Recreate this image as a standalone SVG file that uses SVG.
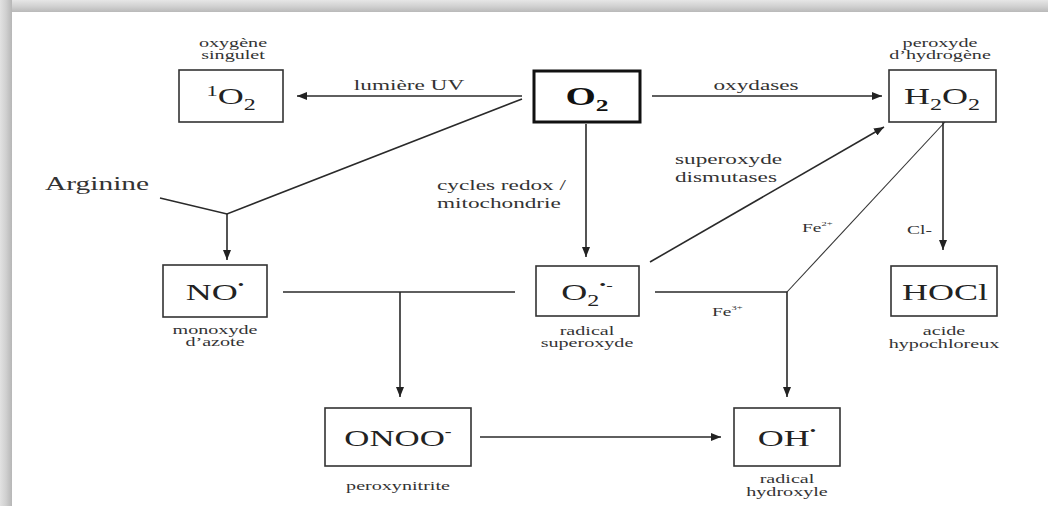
<svg xmlns="http://www.w3.org/2000/svg" width="1054" height="506" viewBox="0 0 1054 506">
<defs>
<linearGradient id="gTop" x1="0" y1="0" x2="0" y2="1"><stop offset="0" stop-color="#e6e6e6"/><stop offset="0.5" stop-color="#d2d2d2"/><stop offset="1" stop-color="#b9b9b9"/></linearGradient>
<linearGradient id="gLeft" x1="0" y1="0" x2="1" y2="0"><stop offset="0" stop-color="#e2e2e2"/><stop offset="0.5" stop-color="#d0d0d0"/><stop offset="1" stop-color="#b6b6b6"/></linearGradient>
<marker id="ah" viewBox="0 0 10 8" refX="10" refY="4" markerWidth="10" markerHeight="8" markerUnits="userSpaceOnUse" orient="auto"><path d="M0,0 L10,4 L0,8 Z" fill="#222"/></marker>
<style>
.box{fill:#fff;stroke:#333;stroke-width:1.6}
.boxb{fill:#fff;stroke:#111;stroke-width:3}
.ln{fill:none;stroke:#2a2a2a;stroke-width:1.6}
.thin{fill:none;stroke:#333;stroke-width:1.1}
.node{font-family:"Liberation Serif","Times New Roman",serif;font-size:24px;fill:#222;text-anchor:middle}
.big{font-size:26px;font-weight:bold;fill:#111}
.lab{font-family:"Liberation Serif","Times New Roman",serif;font-size:15px;fill:#333}
.arg{font-size:19px}
.cap{font-family:"Liberation Serif","Times New Roman",serif;font-size:11.5px;fill:#333;text-anchor:middle}
.sm{font-family:"Liberation Serif","Times New Roman",serif;font-size:13px;fill:#333}
</style>
</defs>
<rect x="0" y="0" width="1054" height="506" fill="#fff"/>
<rect x="0" y="0" width="1048" height="12" fill="url(#gTop)"/>
<rect x="0" y="0" width="12" height="506" fill="url(#gLeft)"/>

<g id="connectors">
<line class="ln" x1="522" y1="96" x2="297" y2="96" marker-end="url(#ah)"/>
<line class="ln" x1="652" y1="96" x2="882" y2="96" marker-end="url(#ah)"/>
<line class="ln" x1="586" y1="124" x2="586" y2="257" marker-end="url(#ah)"/>
<polyline class="ln" points="522,99 227,214 160,198"/>
<line class="ln" x1="227" y1="214" x2="227" y2="260" marker-end="url(#ah)"/>
<line class="ln" x1="283" y1="292" x2="515" y2="292"/>
<line class="ln" x1="400" y1="292" x2="400" y2="397" marker-end="url(#ah)"/>
<line class="ln" x1="650" y1="262" x2="884" y2="127" stroke-width="2" marker-end="url(#ah)"/>
<polyline class="ln" points="655,292 787,292 787,397" marker-end="url(#ah)"/>
<line class="thin" x1="787" y1="292" x2="945" y2="122"/>
<line class="ln" x1="943" y1="122" x2="943" y2="250" marker-end="url(#ah)"/>
<line class="ln" x1="480" y1="437" x2="721" y2="437" marker-end="url(#ah)"/>
<text class="lab" transform="translate(409,90) scale(1.55,1)" text-anchor="middle">lumière UV</text>
<text class="lab" transform="translate(756,90) scale(1.55,1)" text-anchor="middle">oxydases</text>
<text class="lab" transform="translate(437,190) scale(1.55,1)">cycles redox /</text>
<text class="lab" transform="translate(437,208) scale(1.55,1)">mitochondrie</text>
<text class="lab" transform="translate(675,164) scale(1.55,1)">superoxyde</text>
<text class="lab" transform="translate(675,182) scale(1.55,1)">dismutases</text>
<text class="lab arg" transform="translate(45,190) scale(1.55,1)">Arginine</text>
<text class="sm" transform="translate(802,232) scale(1.5,1)">Fe<tspan font-size="7" dy="-6">2+</tspan></text>
<text class="sm" transform="translate(907,234) scale(1.5,1)">Cl-</text>
<text class="sm" transform="translate(712,316) scale(1.5,1)">Fe<tspan font-size="7" dy="-6">3+</tspan></text>
</g>

<g id="n-1O2">
<rect class="box" x="179" y="70" width="104" height="52"/>
<text class="node" transform="translate(231,104) scale(1.5,1)"><tspan font-size="15" dy="-8">1</tspan><tspan dy="8">O</tspan><tspan font-size="16" dy="6">2</tspan></text>
<text class="cap" transform="translate(233,47) scale(1.75,1)">oxygène</text>
<text class="cap" transform="translate(233,59) scale(1.75,1)">singulet</text>
</g>

<g id="n-O2">
<rect class="boxb" x="534" y="71" width="106" height="51"/>
<text class="node big" transform="translate(587,105) scale(1.5,1)">O<tspan font-size="17" dy="6">2</tspan></text>
</g>

<g id="n-H2O2">
<rect class="box" x="889" y="70" width="107" height="52"/>
<text class="node" transform="translate(942,104) scale(1.5,1)">H<tspan font-size="16" dy="6">2</tspan><tspan dy="-6">O</tspan><tspan font-size="16" dy="6">2</tspan></text>
<text class="cap" transform="translate(940,47) scale(1.75,1)">peroxyde</text>
<text class="cap" transform="translate(940,59) scale(1.75,1)">d’hydrogène</text>
</g>

<g id="n-NO">
<rect class="box" x="163" y="265" width="104" height="52"/>
<text class="node" transform="translate(215,300) scale(1.5,1)">NO<tspan font-size="12" dy="-11">•</tspan></text>
<text class="cap" transform="translate(215,334) scale(1.75,1)">monoxyde</text>
<text class="cap" transform="translate(215,346) scale(1.75,1)">d’azote</text>
</g>

<g id="n-O2rad">
<rect class="box" x="536" y="266" width="103" height="50"/>
<text class="node" transform="translate(587,300) scale(1.5,1)">O<tspan font-size="16" dy="6">2</tspan><tspan font-size="13" dy="-17">•-</tspan></text>
<text class="cap" transform="translate(587,335) scale(1.75,1)">radical</text>
<text class="cap" transform="translate(587,347) scale(1.75,1)">superoxyde</text>
</g>

<g id="n-HOCl">
<rect class="box" x="891" y="266" width="106" height="50"/>
<text class="node" transform="translate(945,300) scale(1.5,1)">HOCl</text>
<text class="cap" transform="translate(944,335) scale(1.75,1)">acide</text>
<text class="cap" transform="translate(944,348) scale(1.75,1)">hypochloreux</text>
</g>

<g id="n-ONOO">
<rect class="box" x="325" y="408" width="146" height="58"/>
<text class="node" transform="translate(398,446) scale(1.45,1)">ONOO<tspan font-size="14" dy="-10">-</tspan></text>
<text class="cap" transform="translate(398,490) scale(1.75,1)">peroxynitrite</text>
</g>

<g id="n-OH">
<rect class="box" x="734" y="408" width="106" height="58"/>
<text class="node" transform="translate(787,446) scale(1.5,1)">OH<tspan font-size="12" dy="-11">•</tspan></text>
<text class="cap" transform="translate(787,483) scale(1.75,1)">radical</text>
<text class="cap" transform="translate(787,496) scale(1.75,1)">hydroxyle</text>
</g>
</svg>
